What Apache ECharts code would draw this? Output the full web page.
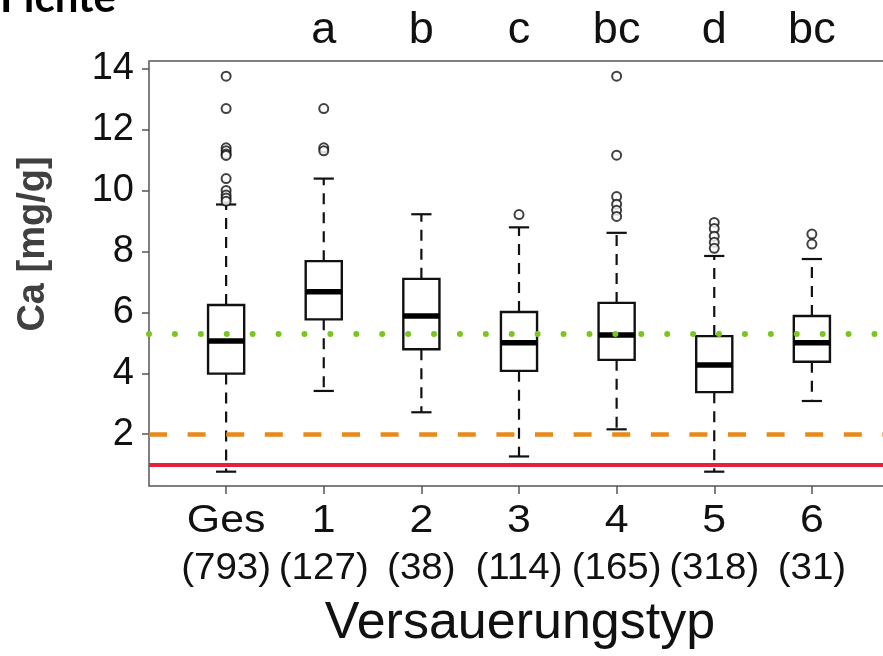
<!DOCTYPE html>
<html>
<head>
<meta charset="utf-8">
<script src="https://cdn.jsdelivr.net/npm/echarts@6/dist/echarts.min.js"></script>
<style>
  html, body { margin: 0; padding: 0; background: #fff; }
  #chart { width: 883px; height: 656px; }
</style>
</head>
<body>
<div id="chart"></div>
<script>
// groups and sample sizes
var categories = ['Ges', '1', '2', '3', '4', '5', '6'];
var counts = ['(793)', '(127)', '(38)', '(114)', '(165)', '(318)', '(31)'];
var letters = ['', 'a', 'b', 'c', 'bc', 'd', 'bc'];

// box statistics, Ca [mg/g]
var lowWhisker = [0.77, 3.42, 2.72, 1.27, 2.16, 0.77, 3.09];
var q1 = [3.99, 5.77, 4.79, 4.08, 4.44, 3.38, 4.38];
var median = [5.06, 6.68, 5.88, 5.00, 5.26, 4.27, 5.00];
var q3 = [6.24, 7.68, 7.10, 6.01, 6.31, 5.22, 5.88];
var highWhisker = [9.54, 10.39, 9.22, 8.79, 8.61, 7.85, 7.75];
var outliers = [
    [13.75, 12.69, 11.4, 11.3, 11.2, 11.15, 10.39, 10.0, 9.85, 9.75, 9.65],
    [12.69, 11.4, 11.3],
    [],
    [9.21],
    [13.75, 11.16, 9.8, 9.55, 9.35, 9.15],
    [8.95, 8.75, 8.5, 8.3, 8.1],
    [8.57, 8.24]
];

// reference lines
var greenLevel = 5.31;
var orangeLevel = 2.0;
var redLevel = 1.0;

var yTicks = [2, 4, 6, 8, 10, 12, 14];
var xTicks = [1, 2, 3, 4, 5, 6, 7];
var yMin = 0.3, yMax = 14.25;

var boxData = categories.map(function (c, i) {
    return [i + 1, lowWhisker[i], q1[i], median[i], q3[i], highWhisker[i]];
});
var outlierData = [];
outliers.forEach(function (list, i) {
    list.forEach(function (v) { outlierData.push([i + 1, v]); });
});
var labelData = categories.map(function (c, i) {
    return [i + 1, yMin];
});

var chart = echarts.init(document.getElementById('chart'));

function renderBox(params, api) {
    var x = api.value(0);
    var lo = api.coord([x, api.value(1)]);
    var b1 = api.coord([x, api.value(2)]);
    var md = api.coord([x, api.value(3)]);
    var b3 = api.coord([x, api.value(4)]);
    var hi = api.coord([x, api.value(5)]);
    var w = api.size([0.37, 0])[0];
    var cap = w * 0.28;
    var cx = md[0];
    var dashStyle = { stroke: '#111', lineWidth: 2.2, lineDash: [11, 8] };
    var solid = { stroke: '#111', lineWidth: 2.2 };
    return {
        type: 'group',
        children: [
            { type: 'line', shape: { x1: cx, y1: b3[1], x2: cx, y2: hi[1] }, style: dashStyle },
            { type: 'line', shape: { x1: cx, y1: b1[1], x2: cx, y2: lo[1] }, style: dashStyle },
            { type: 'line', shape: { x1: cx - cap, y1: hi[1], x2: cx + cap, y2: hi[1] }, style: solid },
            { type: 'line', shape: { x1: cx - cap, y1: lo[1], x2: cx + cap, y2: lo[1] }, style: solid },
            { type: 'rect', shape: { x: cx - w / 2, y: b3[1], width: w, height: b1[1] - b3[1] },
              style: { fill: 'none', stroke: '#111', lineWidth: 2.4 } },
            { type: 'line', shape: { x1: cx - w / 2, y1: md[1], x2: cx + w / 2, y2: md[1] },
              style: { stroke: '#000', lineWidth: 5.5 } }
        ]
    };
}

// two-line category labels under the axis (slightly wide, as in the source)
function renderLabel(params, api) {
    var i = params.dataIndex;
    var p = api.coord([api.value(0), api.value(1)]);
    var font = '"Liberation Sans", Arial';
    return {
        type: 'group',
        children: [
            { type: 'text', x: p[0], y: p[1] + 35, scaleX: 1.1,
              style: { text: categories[i], fontFamily: font, fontSize: 39, fill: '#111', align: 'center', verticalAlign: 'middle' } },
            { type: 'text', x: p[0], y: p[1] + 83, scaleX: 1.07,
              style: { text: counts[i], fontFamily: font, fontSize: 36, fill: '#111', align: 'center', verticalAlign: 'middle' } }
        ]
    };
}

var option = {
    animation: false,
    backgroundColor: '#fff',
    grid: {
        left: 149, right: -6, top: 61, bottom: 170,
        show: true, borderColor: '#555', borderWidth: 1.5,
        outerBoundsMode: 'none'
    },
    xAxis: [{
        type: 'value', min: 0.21, max: 7.79,
        axisLine: { show: false },
        splitLine: { show: false },
        axisTick: { show: true, length: 8, customValues: xTicks, lineStyle: { color: '#555', width: 1.5 } },
        axisLabel: { show: false }
    }, {
        type: 'value', min: 0.21, max: 7.79, position: 'top',
        axisLine: { show: false },
        splitLine: { show: false },
        axisTick: { show: false },
        axisLabel: {
            customValues: [2, 3, 4, 5, 6, 7], margin: 8,
            formatter: function (v) { return letters[v - 1]; },
            fontFamily: '"Liberation Sans", Arial', fontSize: 45, color: '#111'
        }
    }],
    yAxis: {
        type: 'value', min: yMin, max: yMax,
        axisLine: { show: false },
        splitLine: { show: false },
        axisTick: { show: true, length: 7, customValues: yTicks, lineStyle: { color: '#555', width: 1.5 } },
        axisLabel: {
            customValues: yTicks, margin: 15,
            fontFamily: '"Liberation Sans", Arial', fontSize: 38, color: '#111'
        }
    },
    graphic: [
        { type: 'text', x: 0, y: -2, style: { text: 'Fichte', fontFamily: 'Lato, "Open Sans", sans-serif', fontWeight: 'bold', fontSize: 42, fill: '#000', align: 'left', verticalAlign: 'middle' } },
        { type: 'text', x: 34, y: 244, rotation: Math.PI / 2, style: { text: 'Ca [mg/g]', fontFamily: '"Liberation Sans", Arial', fontWeight: 'bold', fontSize: 38, fill: '#404040', align: 'center', verticalAlign: 'middle' } },
        { type: 'text', x: 520, y: 624, style: { text: 'Versauerungstyp', fontFamily: '"Liberation Sans", Arial', fontSize: 52, fill: '#111', align: 'center', verticalAlign: 'middle' } }
    ],
    series: [{
        type: 'custom',
        renderItem: renderBox,
        data: boxData,
        z: 2
    }, {
        type: 'custom',
        renderItem: renderLabel,
        data: labelData,
        clip: false,
        silent: true,
        z: 2
    }, {
        type: 'scatter',
        data: outlierData,
        symbol: 'emptyCircle',
        symbolSize: 9,
        itemStyle: { color: '#111', borderWidth: 2.2 },
        z: 3
    }, {
        type: 'line',
        data: [],
        z: 5,
        markLine: {
            silent: true,
            symbol: ['none', 'none'],
            label: { show: false },
            data: [
                { yAxis: greenLevel, lineStyle: { color: '#7cc520', width: 6, type: [0.01, 25.9], cap: 'round' } },
                { yAxis: orangeLevel, lineStyle: { color: '#e8891a', width: 4.5, type: [18, 20.6] } },
                { yAxis: redLevel, lineStyle: { color: '#e6203c', width: 4, type: 'solid' } }
            ]
        }
    }]
};

chart.setOption(option);
</script>
</body>
</html>
